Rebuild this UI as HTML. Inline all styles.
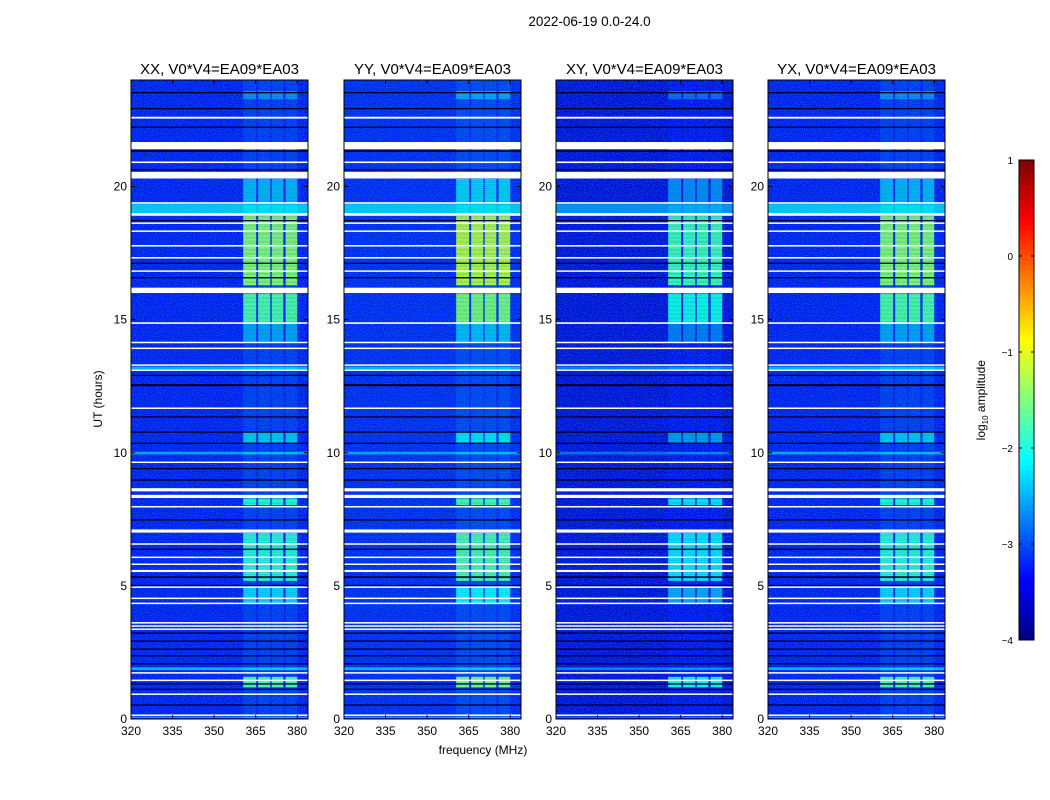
<!DOCTYPE html>
<html><head><meta charset="utf-8"><style>
body{margin:0;background:#fff;font-family:"Liberation Sans",sans-serif}
#root{position:relative;width:1050px;height:800px;overflow:hidden}
.t{position:absolute;white-space:nowrap;color:#000}
</style></head><body>
<div id="root">
<div class="t" style="left:0;width:1179px;text-align:center;top:14px;font-size:13.5px">2022-06-19 0.0-24.0</div>
<div class="t" style="left:383px;width:200px;text-align:center;top:743px;font-size:12px">frequency (MHz)</div>
<div class="t" style="left:48px;top:392px;width:100px;text-align:center;font-size:12px;transform:rotate(-90deg)">UT (hours)</div>
<div class="t" style="left:932px;top:392px;width:100px;text-align:center;font-size:12px;transform:rotate(-90deg)">log<sub style="font-size:8px">10</sub> amplitude</div>
<svg id="svg" width="1050" height="800" style="position:absolute;left:0;top:0">
<defs><filter id="nz" x="0" y="0" width="1" height="1"><feTurbulence type="fractalNoise" baseFrequency="0.9" numOctaves="1" seed="3"/><feColorMatrix type="matrix" values="0 0 0 0 0  0 0 0 0 0.5  0 0 0 0 0.3  0 0 0 -2.2 1.4"/></filter></defs>
</svg>
</div>
<script>
const panelTitles=["XX, V0*V4=EA09*EA03","YY, V0*V4=EA09*EA03","XY, V0*V4=EA09*EA03","YX, V0*V4=EA09*EA03"];
const panelLefts=[131,344,556,768];
const panelBg=[-3.3,-3.25,-3.5,-3.3];
const panelBandGain=[1.0,1.1,0.85,1.0];
const xTicks=[320,335,350,365,380];
const yTicks=[0,5,10,15,20];
const cbTicks=[1,0,-1,-2,-3,-4];
const subbands=[[360.5,365.2],[365.9,370.3],[370.8,375.0],[375.8,380.0]];
const activity=[[23.3,23.6,-2.7],[21.4,21.67,-1.0],[19.4,20.3,-2.5],[16.3,18.9,-1.4],[14.9,16.0,-1.7],[14.15,14.9,-2.6],[10.36,10.78,-2.4],[8.05,8.3,-1.9],[5.2,7.0,-1.9],[4.35,4.96,-2.3],[1.2,1.6,-1.7]];
const broadband=[[19.0,19.35,-2.4],[13.15,13.25,-2.5],[9.95,10.05,-2.6],[4.08,4.12,-2.0],[1.85,1.95,-2.5],[0.05,0.12,-2.6]];
const flagged=[[22.55,22.62],[21.4,21.67],[20.88,20.94],[20.3,20.55],[19.35,19.41],[18.9,19.0],[18.6,18.65],[18.3,18.35],[17.75,17.8],[17.3,17.35],[16.8,16.85],[16.0,16.2],[14.84,14.9],[14.12,14.17],[13.9,13.95],[13.27,13.32],[13.08,13.13],[11.65,11.7],[9.62,9.67],[8.55,8.67],[8.3,8.42],[7.95,8.0],[7.0,7.12],[6.55,6.6],[6.06,6.1],[5.8,5.84],[5.52,5.6],[4.94,4.98],[4.52,4.56],[4.33,4.37],[3.6,3.64],[3.48,3.52],[3.35,3.4],[1.71,1.76],[1.44,1.48],[0.92,0.96],[0.13,0.17]];
const darkRows=[[23.5,23.55],[22.9,22.95],[22.2,22.25],[21.3,21.36],[20.6,20.65],[18.7,18.74],[17.1,17.14],[16.55,16.6],[12.88,12.93],[12.5,12.58],[11.32,11.37],[10.75,10.8],[10.33,10.38],[9.38,9.43],[8.95,9.0],[7.45,7.5],[6.35,6.4],[5.3,5.36],[5.0,5.04],[3.2,3.25],[2.9,2.95],[2.6,2.65],[2.35,2.4],[2.05,2.1],[1.3,1.34],[1.1,1.14],[0.5,0.55]];
const PX=2.77,PW=177,TOP=80,BOT=719,HPX=(BOT-TOP)/24;
const svg=document.getElementById('svg');const NS='http://www.w3.org/2000/svg';
function mk(t,a,p){const e=document.createElementNS(NS,t);for(const k in a)e.setAttribute(k,a[k]);(p||svg).appendChild(e);return e;}
function jet(v){let t=Math.max(0,Math.min(1,(v+4)/5));const c=x=>Math.round(255*Math.max(0,Math.min(1,1.5-Math.abs(4*t-x))));return `rgb(${c(3)},${c(2)},${c(1)})`;}
function inR(h,list){for(const r of list)if(h>=r[0]&&h<r[1])return r;return null;}
const rowStep=0.05;
panelLefts.forEach((L,pi)=>{
  const X=f=>L+(f-320)*PX, Y=h=>BOT-h*HPX;
  const g=mk('g',{});
  
  
  for(let i=0;i<24/rowStep;i++){
    const h0=i*rowStep,hm=h0+rowStep/2;
    let bg=panelBg[pi];const bb=inR(hm,broadband);if(bb)bg=Math.max(bg,bb[2]+(pi==2?-0.3:0));
    const r=mk('rect',{x:L,y:Y(h0+rowStep),width:PW,height:rowStep*HPX+0.3,fill:jet(bg)},g);
    
    
    const act=inR(hm,activity);
    const lvl=act?(act[2]+4)*panelBandGain[pi]-4:(bg+0.15);
    subbands.forEach(sb=>{
      const c=mk('rect',{x:X(sb[0]),y:Y(h0+rowStep),width:(sb[1]-sb[0])*PX,height:rowStep*HPX+0.3,fill:jet(lvl)},g);
      
      
    });
  }
  const nz=mk('rect',{x:L,y:TOP,width:PW,height:BOT-TOP,filter:'url(#nz)',opacity:0.55},g);
  
  darkRows.forEach(d=>{const e=mk('rect',{x:L,y:Y(d[1]),width:PW,height:Math.max(1.2,(d[1]-d[0])*HPX),fill:'#00002a'},g);
    });
  flagged.forEach(d=>{const e=mk('rect',{x:L,y:Y(d[1]),width:PW,height:Math.max(1.5,(d[1]-d[0])*HPX),fill:'#fff'},g);
    });
  const fr=mk('rect',{x:L,y:TOP,width:PW,height:BOT-TOP,fill:'none',stroke:'#000','stroke-width':1});
  
  const tt=mk('text',{x:L+PW/2,y:TOP-6,'text-anchor':'middle','font-size':15,'font-family':'Liberation Sans'});
  tt.textContent=panelTitles[pi];
  
  xTicks.forEach(f=>{const x=X(f);mk('line',{x1:x,x2:x,y1:BOT,y2:BOT-4,stroke:'#000'});mk('line',{x1:x,x2:x,y1:TOP,y2:TOP+4,stroke:'#000'});
    const t=mk('text',{x:x,y:BOT+16,'text-anchor':'middle','font-size':12,'font-family':'Liberation Sans'});t.textContent=f;
    });
  yTicks.forEach(v=>{const y=Y(v);mk('line',{x1:L,x2:L+4,y1:y,y2:y,stroke:'#000'});mk('line',{x1:L+PW,x2:L+PW-4,y1:y,y2:y,stroke:'#000'});
    const t=mk('text',{x:L-4,y:y+4,'text-anchor':'end','font-size':12,'font-family':'Liberation Sans'});t.textContent=v;
    });
});
const CBX=1019,CBW=15,CBT=160,CBB=640;
const cg=mk('g',{});
for(let i=0;i<96;i++){const v=-4+5*i/96;const y=CBB-(i+1)*(CBB-CBT)/96;
  const r=mk('rect',{x:CBX,y:y,width:CBW,height:(CBB-CBT)/96+0.5,fill:jet(v+0.026)},cg);
  }
mk('rect',{x:CBX,y:CBT,width:CBW,height:CBB-CBT,fill:'none',stroke:'#000'});
cbTicks.forEach(v=>{const y=CBB-(v+4)/5*(CBB-CBT);mk('line',{x1:CBX,x2:CBX+3,y1:y,y2:y,stroke:'#000'});mk('line',{x1:CBX+CBW,x2:CBX+CBW-3,y1:y,y2:y,stroke:'#000'});
  const t=mk('text',{x:CBX-6,y:y+4,'text-anchor':'end','font-size':10,'font-family':'Liberation Sans'});t.textContent=v<0?'\u2212'+(-v):v;
  });
</script>
</body></html>
